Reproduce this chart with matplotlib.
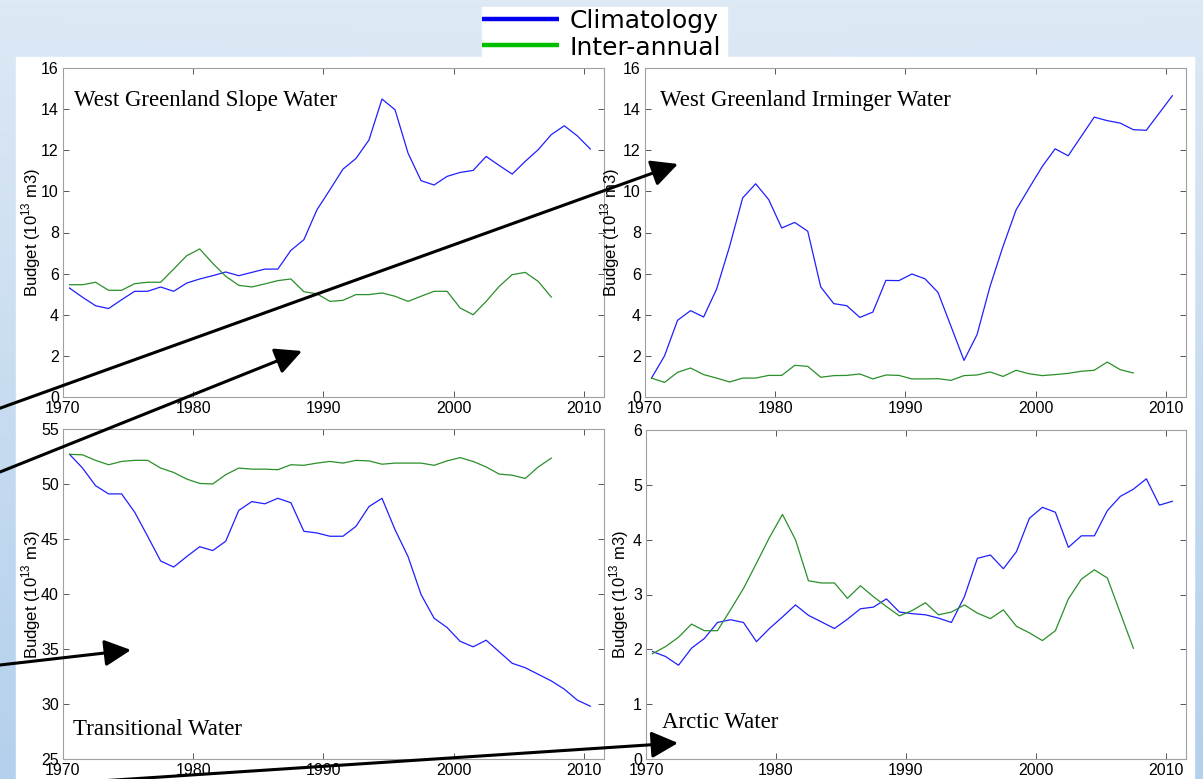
import numpy as np
import matplotlib.pyplot as plt
from matplotlib.patches import Rectangle, FancyArrowPatch

plt.rcParams['font.family'] = ['Liberation Sans', 'DejaVu Sans']
plt.rcParams['mathtext.fontset'] = 'custom'
plt.rcParams['mathtext.rm'] = 'Liberation Sans'

W, H = 1203, 779

# annual values, plotted at mid-year
years_clim = np.arange(1970, 2011) + 0.5
years_inter = np.arange(1970, 2008) + 0.5

slope_clim = [5.3, 4.85, 4.44, 4.3, 4.73, 5.14, 5.14, 5.35, 5.14, 5.54, 5.74,
              5.9, 6.08, 5.9, 6.06, 6.22, 6.22, 7.13, 7.65, 9.1, 10.08, 11.08,
              11.6, 12.5, 14.49, 13.97, 11.86, 10.52, 10.31, 10.73, 10.92, 11.02,
              11.7, 11.26, 10.84, 11.46, 12.03, 12.76, 13.19, 12.7, 12.06]
slope_inter = [5.46, 5.46, 5.58, 5.19, 5.19, 5.51, 5.58, 5.58, 6.22, 6.87, 7.2,
               6.5, 5.87, 5.43, 5.35, 5.5, 5.66, 5.74, 5.12, 5.02, 4.65, 4.7,
               4.98, 4.98, 5.06, 4.9, 4.65, 4.9, 5.14, 5.14, 4.33, 4.0, 4.65,
               5.38, 5.95, 6.06, 5.62, 4.86]

irminger_clim = [0.92, 2.0, 3.73, 4.2, 3.89, 5.25, 7.33, 9.68, 10.37, 9.6, 8.22,
                 8.49, 8.06, 5.35, 4.54, 4.44, 3.87, 4.13, 5.67, 5.66, 5.98, 5.75,
                 5.09, 3.44, 1.78, 3.03, 5.38, 7.33, 9.1, 10.16, 11.2, 12.07,
                 11.73, 12.67, 13.61, 13.44, 13.32, 13.0, 12.97, 13.81, 14.65]
irminger_inter = [0.92, 0.71, 1.2, 1.41, 1.09, 0.92, 0.73, 0.92, 0.92, 1.05, 1.05,
                  1.54, 1.49, 0.96, 1.04, 1.05, 1.12, 0.88, 1.07, 1.05, 0.88, 0.88,
                  0.89, 0.81, 1.04, 1.07, 1.22, 1.0, 1.3, 1.13, 1.04, 1.09, 1.15,
                  1.25, 1.3, 1.7, 1.33, 1.17]

trans_clim = [52.7, 51.45, 49.85, 49.1, 49.1, 47.45, 45.25, 43.0, 42.45, 43.4,
              44.3, 43.95, 44.8, 47.6, 48.4, 48.2, 48.7, 48.3, 45.7, 45.55, 45.25,
              45.25, 46.15, 47.95, 48.7, 45.85, 43.4, 39.95, 37.8, 36.95, 35.7,
              35.2, 35.8, 34.75, 33.7, 33.3, 32.7, 32.1, 31.35, 30.35, 29.8]
trans_inter = [52.7, 52.65, 52.15, 51.75, 52.05, 52.15, 52.15, 51.45, 51.05, 50.45,
               50.05, 50.0, 50.85, 51.45, 51.35, 51.35, 51.3, 51.75, 51.7, 51.9,
               52.05, 51.9, 52.15, 52.1, 51.8, 51.9, 51.9, 51.9, 51.7, 52.1, 52.4,
               52.05, 51.55, 50.9, 50.8, 50.5, 51.55, 52.35]

arctic_clim = [1.96, 1.87, 1.71, 2.02, 2.2, 2.49, 2.54, 2.49, 2.14, 2.38, 2.59,
               2.81, 2.62, 2.5, 2.38, 2.55, 2.74, 2.77, 2.92, 2.68, 2.65, 2.63,
               2.57, 2.49, 2.96, 3.66, 3.72, 3.47, 3.78, 4.39, 4.59, 4.5, 3.86,
               4.07, 4.07, 4.53, 4.79, 4.92, 5.11, 4.63, 4.7]
arctic_inter = [1.92, 2.05, 2.22, 2.46, 2.34, 2.34, 2.72, 3.11, 3.57, 4.04, 4.46,
                4.0, 3.25, 3.21, 3.21, 2.93, 3.16, 2.96, 2.78, 2.61, 2.71, 2.85,
                2.63, 2.68, 2.81, 2.66, 2.56, 2.72, 2.42, 2.3, 2.16, 2.34, 2.92,
                3.28, 3.45, 3.3, 2.66, 2.02]

titles = ['West Greenland Slope Water', 'West Greenland Irminger Water',
          'Transitional Water', 'Arctic Water']
legend_labels = ['Climatology', 'Inter-annual']
xticks = [1970, 1980, 1990, 2000, 2010]

fig = plt.figure(figsize=(W / 100, H / 100), dpi=100)

# slide background
bg = fig.add_axes([0, 0, 1, 1], zorder=-10)
xx, yy = np.meshgrid(np.linspace(0, 1, 300), np.linspace(0, 1, 200))
t = yy * (0.45 + 0.55 * np.abs(xx - 0.5) * 2)
light = np.array([221, 233, 245]) / 255
dark = np.array([179, 208, 236]) / 255
img = light[None, None, :] * (1 - t[..., None]) + dark[None, None, :] * t[..., None]
bg.imshow(img, extent=[0, W, H, 0], aspect='auto')
bg.add_patch(Rectangle((16, 57), 1194 - 16, H - 57, color='white'))
bg.add_patch(Rectangle((482, 7), 727 - 482, 57 - 7, color='white'))
bg.plot([482, 559], [19, 19], color='#0000ee', lw=3.2, solid_capstyle='butt')
bg.plot([482, 559], [45, 45], color='#00c000', lw=3.2, solid_capstyle='butt')
bg.text(570, 28, legend_labels[0], fontsize=18, family='DejaVu Sans', va='baseline')
bg.text(570, 55, legend_labels[1], fontsize=18, family='DejaVu Sans', va='baseline')
bg.set_xlim(0, W)
bg.set_ylim(H, 0)
bg.axis('off')

# pixel boxes: left, top, right, bottom
boxes = [(63, 68, 604, 397), (645, 68, 1186, 397),
         (63, 429, 604, 759), (646, 430, 1186, 759)]
ylims = [(0, 16), (0, 16), (25, 55), (0, 6)]
ytick_sets = [range(0, 17, 2), range(0, 17, 2), range(25, 56, 5), range(0, 7)]
title_pos = [(0.02, 0.885), (0.028, 0.885), (0.018, 0.073), (0.03, 0.094)]
label_off = [-20, -23, -20, -15]
clims = [slope_clim, irminger_clim, trans_clim, arctic_clim]
inters = [slope_inter, irminger_inter, trans_inter, arctic_inter]

for i in range(4):
    l, tp, r, b = boxes[i]
    ax = fig.add_axes([l / W, (H - b) / H, (r - l) / W, (b - tp) / H])
    ax.set_facecolor('white')
    ax.plot(years_clim, clims[i], color='#1f1fff', lw=0.9)
    ax.plot(years_inter, inters[i], color='#2a8f2a', lw=0.9)
    ax.set_xlim(1970, 2011.55)
    ax.set_ylim(*ylims[i])
    ax.set_xticks(xticks)
    ax.set_yticks(list(ytick_sets[i]))
    ax.tick_params(direction='in', length=4, width=0.7, color='#555555',
                   top=True, right=True, labelsize=11.5, pad=3)
    for s in ax.spines.values():
        s.set_color('#a0a0a0')
        s.set_linewidth(0.8)
    ax.set_ylabel('Budget (10$^{13}$ m3)', fontsize=12)
    ax.yaxis.set_label_coords(label_off[i] / (r - l), 0.5)
    ax.text(title_pos[i][0], title_pos[i][1], titles[i], transform=ax.transAxes,
            family='Liberation Serif', fontsize=16.5, va='baseline')

# black arrows drawn across the slide (figure pixels, y from top)
arrows = [((-5, 410), (678, 164)), ((0, 472), (302, 351)),
          ((0, 665), (131, 650)), ((100, 781), (678, 743))]
for (x0, y0), (x1, y1) in arrows:
    arr = FancyArrowPatch((x0 / W, 1 - y0 / H), (x1 / W, 1 - y1 / H),
                          transform=fig.transFigure,
                          arrowstyle='-|>,head_length=0.9,head_width=0.45',
                          mutation_scale=18, lw=2.2, color='black',
                          shrinkA=0, shrinkB=0, zorder=20)
    fig.add_artist(arr)

fig.savefig('out.png', dpi=100)
